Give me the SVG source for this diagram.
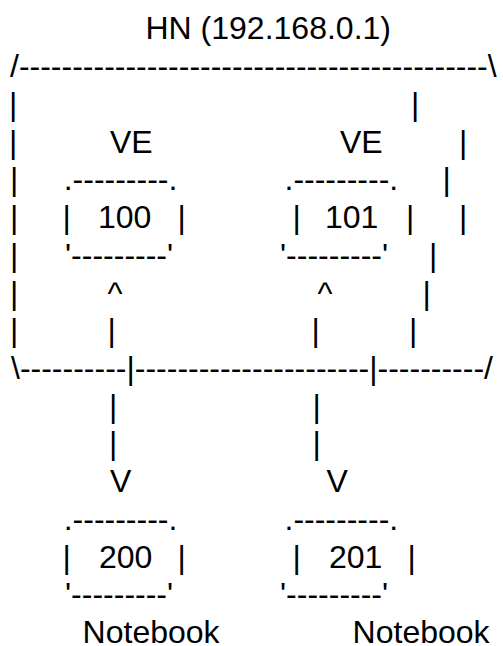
<svg xmlns="http://www.w3.org/2000/svg" width="503" height="646" viewBox="0 0 503 646">
<style>
text{font-family:"Liberation Sans",Arial,sans-serif;font-size:32px;fill:#000;white-space:pre}
</style>
<rect width="503" height="646" fill="#fff"/>
<g id="hn">
<text x="145.5" y="39">HN (192.168.0.1)</text>
<text x="10" y="77">/--------------------------------------------\</text>
<text x="9" y="115">|</text><text x="411" y="115">|</text>
<text x="9" y="152.5">|</text><text x="459" y="152.5">|</text>
<text x="10" y="190">|</text><text x="442.5" y="190">|</text>
<text x="10" y="228">|</text><text x="459" y="228">|</text>
<text x="10" y="266">|</text><text x="429" y="266">|</text>
<text x="10" y="303.5">|</text><text x="422.5" y="303.5">|</text>
<text x="10" y="341">|</text><text x="409" y="341">|</text>
<text x="11" y="379">\----------|----------------------|----------/</text>
</g>
<g id="ve100">
<text x="110" y="152.5">VE</text>
<text x="63.7" y="190">.---------.</text>
<text x="62.5" y="228">|</text><text x="98" y="228">100</text><text x="177.5" y="228">|</text>
<text x="65" y="266">'---------'</text>
</g>
<g id="ve101">
<text x="340" y="152.5">VE</text>
<text x="284.5" y="190">.---------.</text>
<text x="292.5" y="228">|</text><text x="325" y="228">101</text><text x="406" y="228">|</text>
<text x="280" y="266">'---------'</text>
</g>
<g id="nb200">
<text x="63.7" y="530">.---------.</text>
<text x="62.5" y="567.5">|</text><text x="99" y="567.5">200</text><text x="177.5" y="567.5">|</text>
<text x="65" y="605">'---------'</text>
<text x="82.6" y="643">Notebook</text>
</g>
<g id="nb201">
<text x="284.5" y="530">.---------.</text>
<text x="292.5" y="567.5">|</text><text x="329" y="567.5">201</text><text x="407.5" y="567.5">|</text>
<text x="280" y="605">'---------'</text>
<text x="352.6" y="643">Notebook</text>
</g>
<g id="connectors">
<text x="107.5" y="303.5">^</text><text x="317.5" y="303.5">^</text>
<text x="107.5" y="341">|</text><text x="311.5" y="341">|</text>
<text x="109" y="417">|</text><text x="312.5" y="417">|</text>
<text x="109" y="454">|</text><text x="312.5" y="454">|</text>
<text x="110" y="492">V</text><text x="326.5" y="492">V</text>
</g>
</svg>
